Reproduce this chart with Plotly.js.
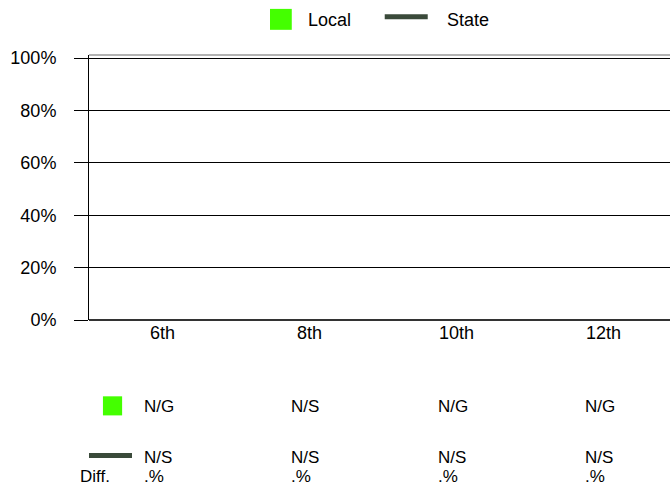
<!DOCTYPE html>
<html>
<head>
<meta charset="utf-8">
<script src="https://cdn.plot.ly/plotly-3.0.1.min.js"></script>
<style>html,body{margin:0;padding:0;background:#fff;}#chart{width:670px;height:487px;}</style>
</head>
<body>
<div id="chart"></div>
<script>
const categories = ['6th', '8th', '10th', '12th'];
const localValues = [null, null, null, null];
const stateValues = [null, null, null, null];
const localLabels = ['N/G', 'N/S', 'N/G', 'N/G'];
const stateLabels = ['N/S', 'N/S', 'N/S', 'N/S'];
const diffLabels = ['.%', '.%', '.%', '.%'];
const yTickVals = [0, 20, 40, 60, 80, 100];
const yTickText = ['0%', '20%', '40%', '60%', '80%', '100%'];
const seriesNames = ['Local', 'State'];

const GREEN = '#44ff00';
const DARK = '#3a4a3a';
const FONT = 'Liberation Sans, Arial, sans-serif';
const FS = 18;
const TFS = 17;

const traces = [
  {type: 'bar', x: categories, y: localValues, name: seriesNames[0], marker: {color: GREEN}, showlegend: false},
  {type: 'scatter', mode: 'lines', x: categories, y: stateValues, name: seriesNames[1], line: {color: DARK, width: 5}, showlegend: false}
];

const annotations = [];
const rows = [[localLabels, -0.326], [stateLabels, -0.519], [diffLabels, -0.591]];
rows.forEach(([labels, yy]) => {
  labels.forEach((t, i) => {
    annotations.push({x: categories[i], xref: 'x', y: yy, yref: 'paper', text: t, showarrow: false,
      xanchor: 'left', yanchor: 'middle', xshift: -21, font: {family: FONT, size: TFS, color: '#000'}});
  });
});
annotations.push({x: (112 - 89) / 581, xref: 'paper', y: -0.591, yref: 'paper', text: 'Diff.', showarrow: false,
  xanchor: 'right', yanchor: 'middle', font: {family: FONT, size: TFS, color: '#000'}});
annotations.push({x: 0.374, xref: 'paper', y: 1.133, yref: 'paper', text: seriesNames[0], showarrow: false,
  xanchor: 'left', yanchor: 'middle', font: {family: FONT, size: FS, color: '#000'}});
annotations.push({x: 0.613, xref: 'paper', y: 1.133, yref: 'paper', text: seriesNames[1], showarrow: false,
  xanchor: 'left', yanchor: 'middle', font: {family: FONT, size: FS, color: '#000'}});

const shapes = [
  {type: 'line', xref: 'paper', yref: 'paper', x0: 0, x1: 1, y0: 1, y1: 1, line: {color: '#9a9a9a', width: 1.5}},
  {type: 'rect', xref: 'paper', yref: 'paper', x0: 0.3115, x1: 0.349, y0: 1.095, y1: 1.174, fillcolor: GREEN, line: {width: 0}},
  {type: 'line', xref: 'paper', yref: 'paper', x0: 0.509, x1: 0.583, y0: 1.144, y1: 1.144, line: {color: DARK, width: 5}},
  {type: 'rect', xref: 'paper', yref: 'paper', x0: 0.024, x1: 0.057, y0: -0.36, y1: -0.288, fillcolor: GREEN, line: {width: 0}},
  {type: 'line', xref: 'paper', yref: 'paper', x0: 0, x1: 0.074, y0: -0.511, y1: -0.511, line: {color: DARK, width: 5}}
];

const layout = {
  width: 670, height: 487,
  margin: {l: 89, r: 0, t: 55, b: 167, pad: 0},
  paper_bgcolor: '#fff', plot_bgcolor: '#fff',
  showlegend: false,
  font: {family: FONT, size: FS, color: '#000'},
  xaxis: {type: 'category', range: [-0.5, 3.452], showgrid: false, zeroline: false, showline: false,
    ticks: '', tickfont: {family: FONT, size: FS, color: '#000'}, fixedrange: true},
  yaxis: {range: [0, 101.2], tickvals: yTickVals, ticktext: yTickText, showgrid: true, gridcolor: '#000', gridwidth: 1,
    zeroline: true, zerolinecolor: '#333', zerolinewidth: 2,
    ticks: 'outside', ticklen: 14, tickcolor: '#000', tickwidth: 1, ticklabelstandoff: 14,
    showline: true, linecolor: '#000', linewidth: 1,
    tickfont: {family: FONT, size: FS, color: '#000'}, fixedrange: true},
  annotations: annotations,
  shapes: shapes
};

Plotly.newPlot('chart', traces, layout, {displayModeBar: false, staticPlot: true});
</script>
</body>
</html>
